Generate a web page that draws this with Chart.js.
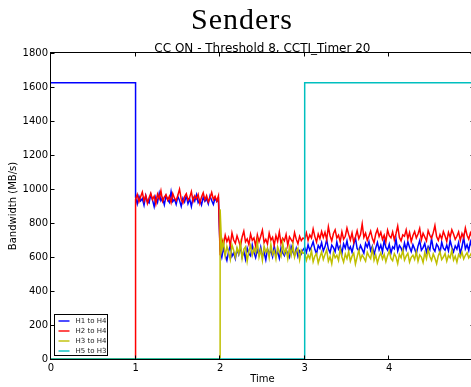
<!DOCTYPE html>
<html><head><meta charset="utf-8">
<script src="https://cdn.jsdelivr.net/npm/chart.js@4"></script>
<style>html,body{margin:0;padding:0;overflow:hidden;background:#fff}#wrap{width:480px;height:387px}</style>
</head><body><div id="wrap"><canvas id="c" width="480" height="387"></canvas></div>
<script>
const TITLE = 'Senders';
const SUBTITLE = 'CC ON - Threshold 8, CCTI_Timer 20';
const X_LABEL = 'Time';
const Y_LABEL = 'Bandwidth (MB/s)';
const SERIES_NAMES = ['H1 to H4', 'H2 to H4', 'H3 to H4', 'H5 to H3'];
const SERIES_COLORS = ['#0000ff', '#ff0000', '#bfbf00', '#00bfbf'];
const X_TICKS = [0, 1, 2, 3, 4, 5];
const Y_TICKS = [0, 200, 400, 600, 800, 1000, 1200, 1400, 1600, 1800];
const STEP = 0.02;
const FULL_RATE = 1625;

// H1 to H4 (blue)
const h1A = [950,912,958,930,944,905,962,928,918,968,936,896,952,922,976,931,947,907,960,938,921,984,926,941,910,956,933,898,946,924,961,914,942,897,951,929,966,919,936,906,952,927,943,913,959,932,909,947,926,940];
const h1B = [640,598,655,612,580,632,668,604,623,590,646,615,662,601,634,587,652,620,607,671,628,596,641,613,659,605,626,583,648,619,637,602,665,611,630,592,655,624,608,644,617,598,661,629,610,650,603,636,618,642];
const h1C = [655,628,672,640,662,690,645,618,668,650,684,636,660,702,648,625,670,655,632,688,646,665,620,678,652,695,640,660,628,674,712,650,636,668,645,622,680,658,690,638,664,615,652,686,642,670,630,698,656,640,675,622,660,648,705,635,668,652,626,682,645,690,658,632,672,648,618,664,696,640,655,680,628,662,642,708,650,634,676,660,624,688,652,640,670,636,698,658,630,665,646,684,620,660,716,648,672,638,690,655,668];
// H2 to H4 (red)
const h2A = [940,968,925,955,982,930,962,915,948,975,938,958,912,970,944,990,928,952,966,935,957,920,973,946,931,963,999,940,918,955,972,934,950,985,927,959,942,968,915,953,978,936,961,924,947,980,938,957,930,960];
const h2B = [610,705,672,728,690,715,668,742,700,681,725,695,660,718,752,689,706,673,735,698,712,664,730,690,722,758,685,704,676,740,699,716,670,726,692,748,680,710,695,733,668,719,702,686,744,705,678,722,696,712];
const h2C = [705,742,698,730,712,765,720,688,735,708,750,715,745,702,778,725,694,738,760,712,728,690,748,705,722,770,733,700,742,686,718,755,708,732,795,716,740,698,724,752,710,684,735,762,720,745,703,728,690,758,725,712,748,700,738,782,715,695,730,722,760,708,744,690,726,750,712,735,768,702,740,718,695,755,728,710,742,785,720,698,732,706,750,724,692,745,716,760,735,704,722,748,698,738,712,770,728,705,742,718,750];
// H3 to H4 (yellow)
const h3B = [880,640,690,605,662,628,585,672,640,598,655,618,680,592,645,660,575,635,668,610,652,625,690,600,642,580,664,628,650,595,675,615,638,588,660,630,605,684,622,648,590,658,612,670,600,636,652,584,640,622];
const h3C = [625,580,612,590,638,572,605,620,565,598,630,585,615,642,575,602,560,625,595,610,580,648,600,570,618,590,632,575,605,622,558,600,640,585,612,595,575,628,605,590,650,580,612,565,600,625,588,615,572,608,635,592,578,620,600,560,615,595,642,582,605,622,570,598,610,585,630,575,612,600,568,625,590,645,603,580,618,592,560,608,632,585,600,620,575,610,595,640,582,605,570,615,598,628,588,610,625,595,612,630,618];

function seg(start, vals) {
  return vals.map((v, i) => ({ x: +(start + i * STEP).toFixed(3), y: v }));
}
const dataH1 = [{x:0,y:FULL_RATE},{x:1,y:FULL_RATE}, ...seg(1,h1A), ...seg(2,h1B), ...seg(3,h1C)];
const dataH2 = [{x:0,y:0},{x:1,y:0}, ...seg(1,h2A), ...seg(2,h2B), ...seg(3,h2C)];
const dataH3 = [{x:0,y:0},{x:2,y:0}, ...seg(2,h3B), ...seg(3,h3C)];
const dataH5 = [{x:0,y:0},{x:3,y:0},{x:3,y:FULL_RATE},{x:5,y:FULL_RATE}];
const allData = [dataH1, dataH2, dataH3, dataH5];

const FONT = 'DejaVu Sans';

const decor = {
  id: 'decor',
  afterDatasetsDraw(chart) {
    const ctx = chart.ctx, ca = chart.chartArea;
    const xs = chart.scales.x, ys = chart.scales.y;
    const L = Math.round(ca.left) - 0.5, R = Math.round(ca.right) + 0.5;
    const T = Math.round(ca.top) - 0.5, B = Math.round(ca.bottom) + 0.5;
    ctx.save();
    ctx.strokeStyle = '#000'; ctx.lineWidth = 1;
    ctx.strokeRect(L, T, R - L, B - T);
    ctx.beginPath();
    X_TICKS.forEach(v => {
      const px = Math.round(xs.getPixelForValue(v)) - 0.5;
      ctx.moveTo(px, B); ctx.lineTo(px, B - 4);
      ctx.moveTo(px, T); ctx.lineTo(px, T + 4);
    });
    Y_TICKS.forEach(v => {
      const py = Math.round(ys.getPixelForValue(v)) + 0.5;
      ctx.moveTo(L, py); ctx.lineTo(L + 4, py);
      ctx.moveTo(R, py); ctx.lineTo(R - 4, py);
    });
    ctx.stroke();
    // legend
    const lx = Math.round(ca.left) + 3.5, lyB = Math.round(ca.bottom) - 3.5;
    const lw = 53, lh = 41, ly = lyB - lh;
    ctx.fillStyle = '#fff';
    ctx.fillRect(lx, ly, lw, lh);
    ctx.strokeStyle = '#000'; ctx.lineWidth = 1;
    ctx.strokeRect(lx, ly, lw, lh);
    ctx.font = '7px "' + FONT + '"';
    ctx.textBaseline = 'middle'; ctx.textAlign = 'left';
    SERIES_NAMES.forEach((name, i) => {
      const ry = Math.round(ly + 6 + i * 10);
      ctx.strokeStyle = SERIES_COLORS[i]; ctx.lineWidth = 1.4;
      ctx.beginPath(); ctx.moveTo(lx + 4, ry); ctx.lineTo(lx + 15, ry); ctx.stroke();
      ctx.fillStyle = '#222';
      ctx.fillText(name, lx + 21, ry);
    });
    ctx.restore();
  },
  afterDraw(chart) {
    const ctx = chart.ctx, ca = chart.chartArea;
    ctx.save();
    ctx.fillStyle = '#000';
    ctx.textAlign = 'center'; ctx.textBaseline = 'alphabetic';
    ctx.font = '30px "Liberation Serif"';
    try { ctx.letterSpacing = '1px'; } catch (e) {}
    ctx.fillText(TITLE, 242, 28.5);
    try { ctx.letterSpacing = '0px'; } catch (e) {}
    ctx.font = '12px "' + FONT + '"';
    ctx.fillText(SUBTITLE, (ca.left + ca.right) / 2, 51.5);
    ctx.restore();
  }
};

const tickFont = { family: FONT, size: 10 };
new Chart(document.getElementById('c'), {
  type: 'line',
  data: {
    datasets: allData.map((d, i) => ({
      label: SERIES_NAMES[i], data: d,
      borderColor: SERIES_COLORS[i], backgroundColor: SERIES_COLORS[i],
      borderWidth: 1.5, pointRadius: 0, tension: 0, fill: false,
      order: 3 - i
    }))
  },
  options: {
    responsive: false, animation: false, events: [],
    layout: { padding: { top: 53, right: 5, left: 0, bottom: 0 } },
    plugins: { legend: { display: false }, tooltip: { enabled: false }, title: { display: false } },
    scales: {
      x: {
        type: 'linear', min: 0, max: 5,
        afterBuildTicks: s => { s.ticks = X_TICKS.map(v => ({ value: v })); },
        afterFit: s => { s.height = 28; },
        grid: { display: false, drawTicks: false }, border: { display: false },
        ticks: { padding: 3, color: '#000', font: tickFont, maxRotation: 0, autoSkip: false, callback: v => String(v) },
        title: { display: true, text: X_LABEL, color: '#000', font: tickFont, padding: { top: 0, bottom: 2 } }
      },
      y: {
        type: 'linear', min: 0, max: 1800,
        afterBuildTicks: s => { s.ticks = Y_TICKS.map(v => ({ value: v })); },
        afterFit: s => { s.width = 51; },
        grid: { display: false, drawTicks: false }, border: { display: false },
        ticks: { padding: 3, color: '#000', font: tickFont, autoSkip: false, callback: v => String(v) },
        title: { display: true, text: Y_LABEL, color: '#000', font: tickFont, padding: { top: 7, bottom: 0 } }
      }
    }
  },
  plugins: [decor]
});
</script>
</body></html>
